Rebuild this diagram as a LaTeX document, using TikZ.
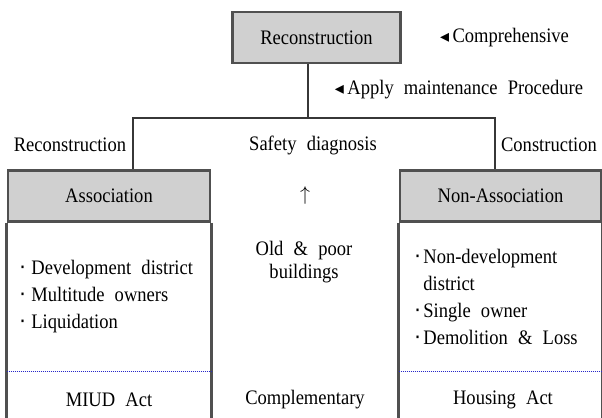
\documentclass[tikz,border=0pt]{standalone}
\usepackage{fontspec}
\setmainfont{Liberation Serif}[WordSpace={2.2,1.2,1}, FakeStretch=0.9]
\newfontfamily\symfont{DejaVu Sans}
\usepackage{xcolor}
\usepackage{tikz}
\usetikzlibrary{positioning}

\definecolor{headgray}{RGB}{208,208,208}
\definecolor{boxgray}{RGB}{80,80,80}
\definecolor{linegray}{RGB}{55,55,55}
\definecolor{dotblue}{RGB}{40,40,200}

\newcommand\tri{{\symfont\small ◂}\,}
\newcommand\dotitem[1][5pt]{\makebox[#1][l]{{\symfont ·}}}

\tikzset{
  headbox/.style={draw=boxgray, fill=headgray, line width=1.4pt, minimum height=25.5pt, inner sep=0pt},
  boxside/.style={draw=boxgray, line width=1.4pt},
  link/.style={draw=linegray, line width=1pt},
  sep/.style={draw=dotblue, line width=0.5pt, dash pattern=on 0.5pt off 0.5pt},
  lab/.style={inner sep=0pt, font=\fontsize{10.3}{13.5}\selectfont},
}

\begin{document}
\begin{tikzpicture}[x=0.5pt, y=-0.5pt]
        \useasboundingbox (0,0) rectangle (602,418);
        % Boxes
        \node[headbox, lab, minimum width=84pt] (recon) at (316.5,37.5) {Reconstruction};
        \node[headbox, lab, minimum width=101pt] (assoc) at (109,196) {Association};
        \node[headbox, lab, minimum width=100.5pt] (nonassoc) at (500.5,196) {Non-Association};
        \draw[boxside] (assoc.south west) -- ++(0,200);
        \draw[boxside] (assoc.south east) -- ++(0,200);
        \draw[boxside] (nonassoc.south west) -- ++(0,200);
        \draw[boxside] (nonassoc.south east) -- ++(0,200);
        % Tree
        \coordinate (junc) at (308,118);
        \coordinate (lft) at (133,118);
        \coordinate (rgt) at (495,118);
        \draw[link] (recon.south -| junc) -- (junc);
        \draw[link] (assoc.north -| lft) -- (lft) -- (rgt) -- (nonassoc.north -| rgt);
        % Notes
        \node[lab] (comp) at (504.5,38) {\tri Comprehensive};
        \node[lab] (apply) at (459,90) {\tri Apply maintenance Procedure};
        \node[lab] (rlab) at (70,145) {Reconstruction};
        \node[lab] (safety) at (313,145) {Safety diagnosis};
        \node[lab] (clab) at (549,145) {Construction};
        \node[lab] (up) at (305,195) {$\uparrow$};
        \node[lab, align=center, font=\fontsize{10.3}{11.8}\selectfont] (old) at (304,262) {Old \& poor\\buildings};
        % Lists
        \node[lab, align=left, anchor=west] (alist) at (19,297) {\dotitem[6pt]Development district\\\dotitem[6pt]Multitude owners\\\dotitem[6pt]Liquidation};
        \node[lab, align=left, anchor=west] (nlist) at (414,296.5) {\dotitem[4.5pt]Non-development\\\hphantom{\dotitem[4.5pt]}district\\\dotitem[4.5pt]Single owner\\\dotitem[4.5pt]Demolition \& Loss};
        % Acts
        \draw[sep] (assoc.west |- 0,371) -- (assoc.east |- 0,371);
        \draw[sep] (nonassoc.west |- 0,371) -- (nonassoc.east |- 0,371);
        \node[lab] (miud) at (109,400) {MIUD Act};
        \node[lab] (compl) at (305,400) {Complementary};
        \node[lab] (housing) at (503,400) {Housing Act};
\end{tikzpicture}
\end{document}
